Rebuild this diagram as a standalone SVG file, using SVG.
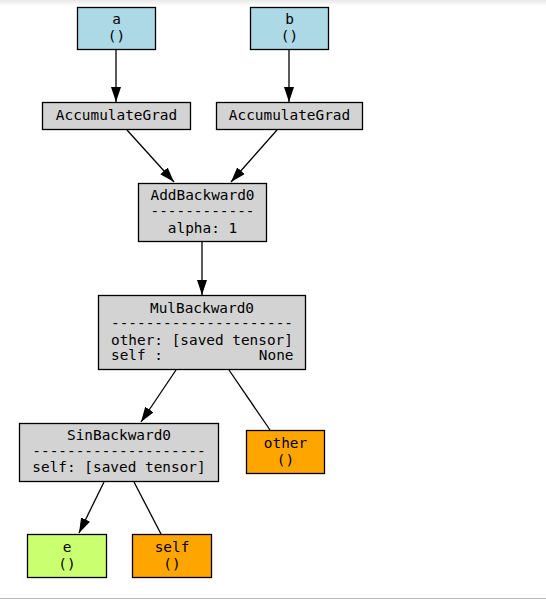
<svg xmlns="http://www.w3.org/2000/svg" width="546" height="600" viewBox="0 0 546 600">
<defs>
<marker id="arr" viewBox="0 0 15 10" refX="15" refY="5" markerWidth="15" markerHeight="10" markerUnits="userSpaceOnUse" orient="auto">
<path d="M0,0 L15,5 L0,10 Z" fill="#000"/>
</marker>
<linearGradient id="topband" x1="0" y1="0" x2="0" y2="1">
<stop offset="0" stop-color="#e8e8e8"/>
<stop offset="1" stop-color="#ffffff"/>
</linearGradient>
</defs>
<style>
.n{stroke:#000;stroke-width:1.3}
.t{font-family:"DejaVu Sans Mono",monospace;font-size:14.4px;fill:#000;text-anchor:middle}
.l{text-anchor:start}
.r{text-anchor:end}
.e{stroke:#000;stroke-width:1.3;fill:none}
.blue{fill:#add8e6}
.grey{fill:#d3d3d3}
.orange{fill:#ffa500}
.green{fill:#caff70}
</style>
<rect x="0" y="0" width="546" height="600" fill="#fff"/>
<rect x="0" y="0" width="546" height="6" fill="url(#topband)"/>
<line x1="0" y1="598.5" x2="546" y2="598.5" stroke="#bbb" stroke-width="1"/>
<g id="edges">
<line class="e" x1="116" y1="50" x2="116" y2="102" marker-end="url(#arr)"/>
<line class="e" x1="289" y1="50" x2="289" y2="102" marker-end="url(#arr)"/>
<line class="e" x1="127" y1="130" x2="174" y2="182" marker-end="url(#arr)"/>
<line class="e" x1="277" y1="130" x2="231" y2="182" marker-end="url(#arr)"/>
<line class="e" x1="202" y1="242" x2="202" y2="295" marker-end="url(#arr)"/>
<line class="e" x1="176" y1="370" x2="141" y2="422" marker-end="url(#arr)"/>
<line class="e" x1="229" y1="370" x2="270" y2="430"/>
<line class="e" x1="104" y1="482" x2="79" y2="533" marker-end="url(#arr)"/>
<line class="e" x1="134" y1="482" x2="161" y2="534"/>
</g>
<g id="a">
<rect class="n blue" x="77.5" y="7.5" width="78" height="42"/>
<text class="t" x="116.5" y="24">a</text>
<text class="t" x="116.5" y="41">()</text>
</g>
<g id="b">
<rect class="n blue" x="250.5" y="7.5" width="78" height="42"/>
<text class="t" x="289.5" y="24">b</text>
<text class="t" x="289.5" y="41">()</text>
</g>
<g id="acc1">
<rect class="n grey" x="42.5" y="102.5" width="148" height="27"/>
<text class="t" x="116.5" y="120">AccumulateGrad</text>
</g>
<g id="acc2">
<rect class="n grey" x="216.5" y="102.5" width="146" height="27"/>
<text class="t" x="289.5" y="120">AccumulateGrad</text>
</g>
<g id="add">
<rect class="n grey" x="138.5" y="183.5" width="128" height="58"/>
<text class="t" x="202.5" y="200">AddBackward0</text>
<text class="t" x="202.5" y="216">------------</text>
<text class="t" x="202.5" y="232.5">alpha: 1</text>
</g>
<g id="mul">
<rect class="n grey" x="98.5" y="295.5" width="207" height="74"/>
<text class="t" x="202" y="313">MulBackward0</text>
<text class="t" x="202" y="328">---------------------</text>
<text class="t l" x="111" y="345">other: [saved tensor]</text>
<text class="t l" x="111" y="360">self :</text>
<text class="t r" x="293.5" y="360">None</text>
</g>
<g id="sin">
<rect class="n grey" x="19.5" y="423.5" width="199" height="58"/>
<text class="t" x="119" y="440">SinBackward0</text>
<text class="t" x="119" y="456">--------------------</text>
<text class="t" x="119" y="472">self: [saved tensor]</text>
</g>
<g id="other">
<rect class="n orange" x="246.5" y="430.5" width="78" height="43"/>
<text class="t" x="285.5" y="448">other</text>
<text class="t" x="285.5" y="465">()</text>
</g>
<g id="e">
<rect class="n green" x="27.5" y="534.5" width="79" height="43"/>
<text class="t" x="67" y="551.5">e</text>
<text class="t" x="67" y="568.5">()</text>
</g>
<g id="self">
<rect class="n orange" x="132.5" y="534.5" width="79" height="43"/>
<text class="t" x="172" y="551.5">self</text>
<text class="t" x="172" y="568.5">()</text>
</g>
</svg>
